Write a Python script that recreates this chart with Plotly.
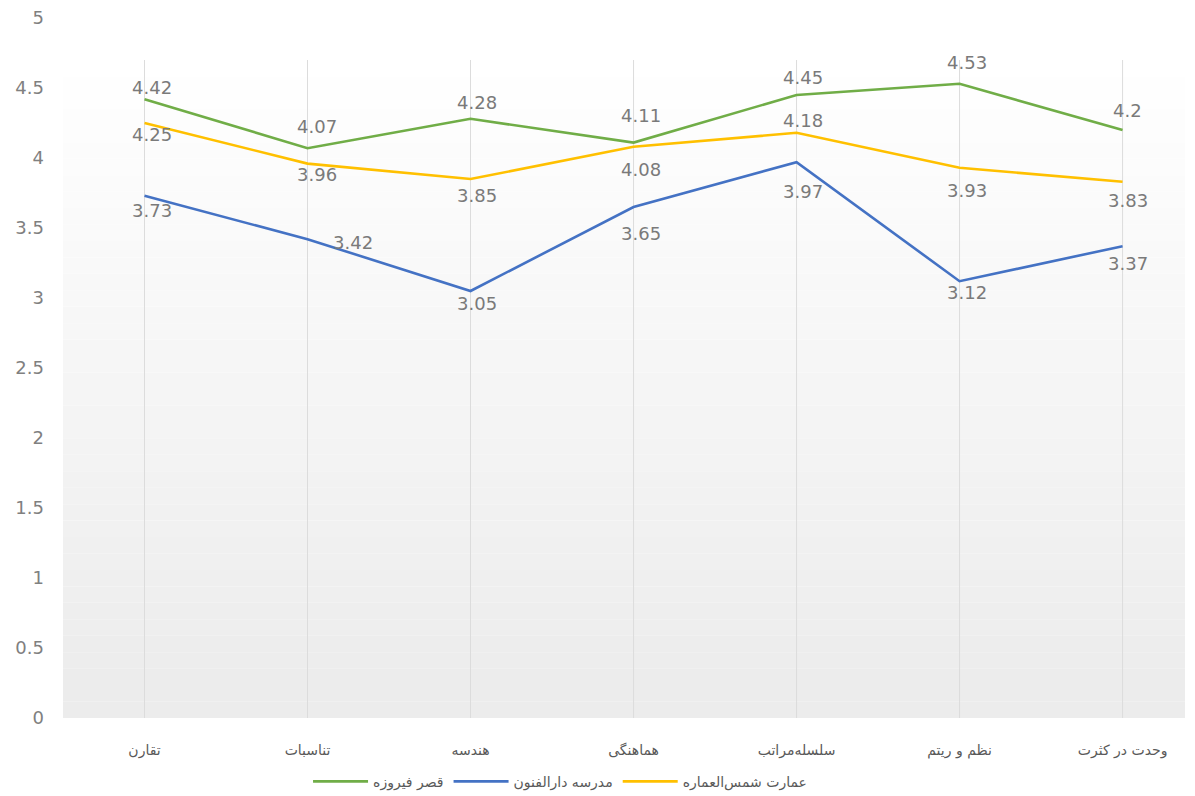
import plotly.graph_objects as go

categories = ["تقارن", "تناسبات", "هندسه", "هماهنگی", "سلسله‌مراتب", "نظم و ریتم", "وحدت در کثرت"]
series_names = ["قصر فیروزه", "مدرسه دارالفنون", "عمارت شمس‌العماره"]
firouzeh = [4.42, 4.07, 4.28, 4.11, 4.45, 4.53, 4.2]
darolfonun = [3.73, 3.42, 3.05, 3.65, 3.97, 3.12, 3.37]
shams = [4.25, 3.96, 3.85, 4.08, 4.18, 3.93, 3.83]
y_ticks = [0, 0.5, 1, 1.5, 2, 2.5, 3, 3.5, 4, 4.5, 5]

colors = ["#70AD47", "#4472C4", "#FFC000"]
# label offsets in pixels (dx, dy; dy positive = upward)
off_firouzeh = [(7, 12), (9, 22), (6, 16), (7, 27), (6, 18), (7, 21), (5, 20)]
off_dar = [(7, -15), (45, -3), (6, -12), (7, -26), (6, -29), (7, -11), (5, -17)]
off_shams = [(7, -11), (9, -11), (6, -16), (7, -23), (6, 12), (7, -23), (5, -19)]

fig = go.Figure()
label_font = dict(family="DejaVu Sans, sans-serif", size=18, color="#7a7a7a")
annotations = []
for name, vals, col, offs in [
    (series_names[0], firouzeh, colors[0], off_firouzeh),
    (series_names[1], darolfonun, colors[1], off_dar),
    (series_names[2], shams, colors[2], off_shams),
]:
    fig.add_trace(go.Scatter(
        x=categories, y=vals, name=name, mode="lines",
        line=dict(color=col, width=2.6),
    ))
    for c, v, (dx, dy) in zip(categories, vals, offs):
        annotations.append(dict(x=c, y=v, xref="x", yref="y", text=str(v), showarrow=False,
                                xshift=dx, yshift=dy, font=label_font))

# gradient background
shapes = []
n = 40
top = 4.7
for i in range(n):
    y0 = top * i / n
    y1 = top * (i + 1) / n
    frac = i / (n - 1)
    g = int(236 + (255 - 236) * frac)
    shapes.append(dict(type="rect", xref="paper", yref="y", x0=0, x1=1, y0=y0, y1=y1,
                       fillcolor=f"rgb({g},{g},{g})", line=dict(width=0), layer="below"))
for c in categories:
    shapes.append(dict(type="line", xref="x", yref="y", x0=c, x1=c, y0=0, y1=top,
                       line=dict(color="#dcdcdc", width=1), layer="below"))

fig.update_layout(
    width=1187, height=788,
    margin=dict(l=55, r=10, t=10, b=78),
    paper_bgcolor="white", plot_bgcolor="white",
    shapes=shapes,
    annotations=annotations,
    showlegend=True,
    legend=dict(orientation="h", x=0.443, xanchor="center", yref="container", y=0.018, yanchor="middle",
                font=dict(family="DejaVu Sans, sans-serif", size=14, color="#595959"),
                itemwidth=55, tracegroupgap=0),
    xaxis=dict(type="category", range=[-0.5, 6.383], showgrid=False, showline=False, zeroline=False,
               automargin=False,
               tickfont=dict(family="DejaVu Sans, sans-serif", size=14, color="#595959"),
               ticks="", ticklabelstandoff=22),
    yaxis=dict(range=[0, 5], tickvals=y_ticks, ticktext=[str(t) for t in y_ticks],
               showgrid=False, zeroline=False, showline=False, ticks="", automargin=False,
               ticklabeloverflow="allow",
               tickfont=dict(family="DejaVu Sans, sans-serif", size=18, color="#808080"),
               ticklabelstandoff=18),
)

fig.write_html("out.html")
